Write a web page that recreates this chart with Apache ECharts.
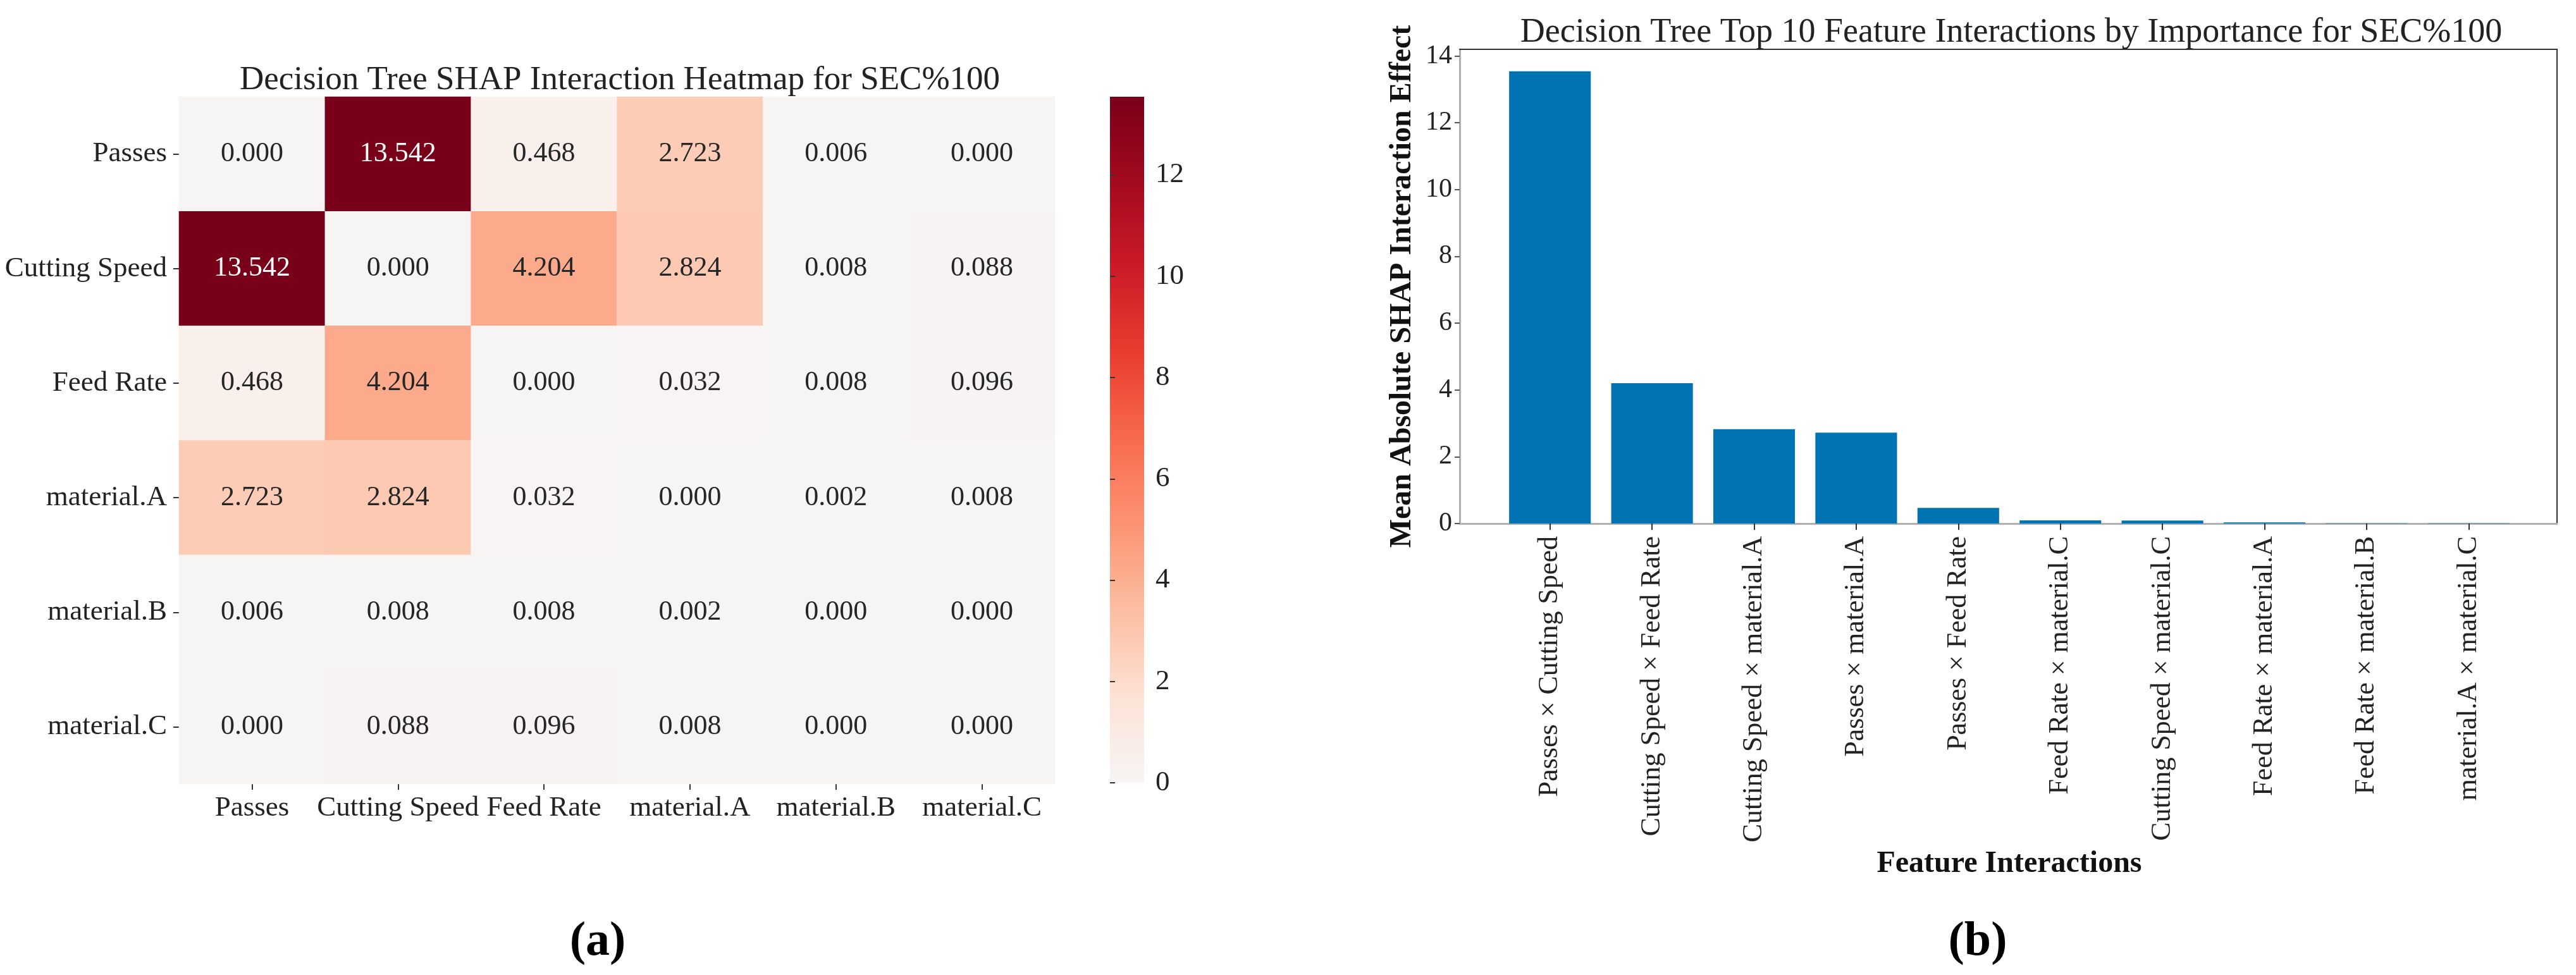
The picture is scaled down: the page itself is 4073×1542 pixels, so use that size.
<!DOCTYPE html>
<html>
<head>
<meta charset="utf-8">
<script src="https://cdn.jsdelivr.net/npm/echarts@6/dist/echarts.min.js"></script>
<style>
html,body{margin:0;padding:0;background:#fff;}
#chart{width:4073px;height:1542px;}
</style>
</head>
<body>
<div id="chart"></div>
<script>
// ---------- DATA ----------
const features = ['Passes', 'Cutting Speed', 'Feed Rate', 'material.A', 'material.B', 'material.C'];
const interactionMatrix = [
  [0.000, 13.542, 0.468, 2.723, 0.006, 0.000],
  [13.542, 0.000, 4.204, 2.824, 0.008, 0.088],
  [0.468, 4.204, 0.000, 0.032, 0.008, 0.096],
  [2.723, 2.824, 0.032, 0.000, 0.002, 0.008],
  [0.006, 0.008, 0.008, 0.002, 0.000, 0.000],
  [0.000, 0.088, 0.096, 0.008, 0.000, 0.000]
];
const colorbarTicks = [0, 2, 4, 6, 8, 10, 12];
const topPairs = [
  'Passes × Cutting Speed', 'Cutting Speed × Feed Rate', 'Cutting Speed × material.A',
  'Passes × material.A', 'Passes × Feed Rate', 'Feed Rate × material.C',
  'Cutting Speed × material.C', 'Feed Rate × material.A', 'Feed Rate × material.B',
  'material.A × material.C'
];
const topValues = [13.542, 4.204, 2.824, 2.723, 0.468, 0.096, 0.088, 0.032, 0.008, 0.008];
const barTicks = [0, 2, 4, 6, 8, 10, 12, 14];

// ---------- STYLE ----------
const FONT = "'Liberation Serif', 'Times New Roman', serif";
const palette = ['#f7f4f4', '#fde2d5', '#fcbea2', '#fc9474', '#f86b4d', '#ea3d2f', '#cc1a27', '#a30a1f', '#790019'];
const heatMax = Math.max(...interactionMatrix.flat());

const heatData = [];
interactionMatrix.forEach((row, r) => {
  row.forEach((v, c) => {
    heatData.push({ value: [c, r, v], label: { color: v > heatMax * 0.55 ? '#ffffff' : '#262626' } });
  });
});

const gradStops = palette.map((c, i) => ({ offset: i / (palette.length - 1), color: c }));

const chart = echarts.init(document.getElementById('chart'), null, { renderer: 'canvas' });

const option = {
  backgroundColor: '#ffffff',
  animation: false,
  textStyle: { fontFamily: FONT, color: '#222' },
  title: [
    { text: 'Decision Tree SHAP Interaction Heatmap for SEC%100', left: 975, top: 96, textAlign: 'center',
      textStyle: { fontFamily: FONT, fontSize: 53, fontWeight: 'normal', color: '#222', lineHeight: 53 } },
    { text: 'Decision Tree Top 10 Feature Interactions by Importance for SEC%100', left: 3175, top: 20, textAlign: 'center',
      textStyle: { fontFamily: FONT, fontSize: 54, fontWeight: 'normal', color: '#222', lineHeight: 54 } },
    { text: '(a)', left: 940, top: 1447, textAlign: 'center',
      textStyle: { fontFamily: FONT, fontSize: 76, fontWeight: 'bold', color: '#000', lineHeight: 76 } },
    { text: '(b)', left: 3122, top: 1447, textAlign: 'center',
      textStyle: { fontFamily: FONT, fontSize: 76, fontWeight: 'bold', color: '#000', lineHeight: 76 } }
  ],
  grid: [
    { left: 283, top: 153, width: 1385, height: 1087 },
    { left: 1755, top: 153, width: 54, height: 1085, show: true, borderWidth: 0,
      backgroundColor: new echarts.graphic.LinearGradient(0, 1, 0, 0, gradStops) },
    { left: 2308, top: 78, width: 1735, height: 750 },
    { left: 2370, top: 78, width: 1614, height: 750 }
  ],
  visualMap: {
    show: false, seriesIndex: 0, min: 0, max: heatMax, dimension: 2,
    inRange: { color: palette }
  },
  xAxis: [
    { gridIndex: 0, type: 'category', data: features, position: 'bottom',
      axisLine: { show: false }, splitLine: { show: false },
      axisTick: { show: true, alignWithLabel: true, length: 9, lineStyle: { color: '#333', width: 2 } },
      axisLabel: { fontFamily: FONT, fontSize: 45, color: '#222', margin: 16, interval: 0 } },
    { gridIndex: 1, type: 'value', show: false, min: 0, max: 1 },
    { gridIndex: 2, type: 'value', min: 0, max: 1, position: 'bottom',
      axisLine: { show: true, onZero: false, lineStyle: { color: '#b0b0b0', width: 3 } },
      axisTick: { show: false }, axisLabel: { show: false }, splitLine: { show: false } },
    { gridIndex: 2, type: 'value', min: 0, max: 1, position: 'top',
      axisLine: { show: true, onZero: false, lineStyle: { color: '#333', width: 2 } },
      axisTick: { show: false }, axisLabel: { show: false }, splitLine: { show: false } },
    { gridIndex: 3, type: 'category', data: topPairs, position: 'bottom',
      axisLine: { show: false }, splitLine: { show: false },
      axisTick: { show: true, alignWithLabel: true, length: 10, lineStyle: { color: '#333', width: 2 } },
      axisLabel: { fontFamily: FONT, fontSize: 44, color: '#222', rotate: 90, margin: 20, interval: 0 },
      name: 'Feature Interactions', nameLocation: 'middle', nameGap: 515, nameMoveOverlap: false,
      nameTextStyle: { fontFamily: FONT, fontSize: 48, fontWeight: 'bold', color: '#111' } }
  ],
  yAxis: [
    { gridIndex: 0, type: 'category', data: features, inverse: true,
      axisLine: { show: false }, splitLine: { show: false },
      axisTick: { show: true, alignWithLabel: true, length: 9, lineStyle: { color: '#333', width: 2 } },
      axisLabel: { fontFamily: FONT, fontSize: 45, color: '#222', margin: 19, interval: 0 } },
    { gridIndex: 1, type: 'value', position: 'right', min: 0, max: heatMax,
      axisLine: { show: false }, splitLine: { show: false },
      axisTick: { show: true, length: 8, customValues: colorbarTicks, lineStyle: { color: '#333', width: 2 } },
      axisLabel: { fontFamily: FONT, fontSize: 45, color: '#222', margin: 18, customValues: colorbarTicks } },
    { gridIndex: 2, type: 'value', position: 'left', min: 0, max: 14.2,
      axisLine: { show: true, onZero: false, lineStyle: { color: '#b0b0b0', width: 3 } }, splitLine: { show: false },
      axisTick: { show: true, length: 8, customValues: barTicks, lineStyle: { color: '#555', width: 2 } },
      axisLabel: { fontFamily: FONT, fontSize: 42, color: '#222', margin: 12, customValues: barTicks },
      name: 'Mean Absolute SHAP Interaction Effect', nameLocation: 'middle', nameGap: 66, nameRotate: 90,
      nameMoveOverlap: false,
      nameTextStyle: { fontFamily: FONT, fontSize: 48, fontWeight: 'bold', color: '#111' } },
    { gridIndex: 2, type: 'value', position: 'right', min: 0, max: 14.2,
      axisLine: { show: true, onZero: false, lineStyle: { color: '#333', width: 2 } }, splitLine: { show: false },
      axisTick: { show: false }, axisLabel: { show: false } },
    { gridIndex: 3, type: 'value', min: 0, max: 14.2, show: false }
  ],
  series: [
    { type: 'heatmap', xAxisIndex: 0, yAxisIndex: 0, data: heatData,
      label: { show: true, fontFamily: FONT, fontSize: 44, formatter: p => p.value[2].toFixed(3) },
      emphasis: { disabled: true } },
    { type: 'bar', xAxisIndex: 4, yAxisIndex: 4, data: topValues, barWidth: '80%',
      itemStyle: { color: '#0173b2' }, emphasis: { disabled: true } }
  ]
};
chart.setOption(option);
</script>
</body>
</html>
